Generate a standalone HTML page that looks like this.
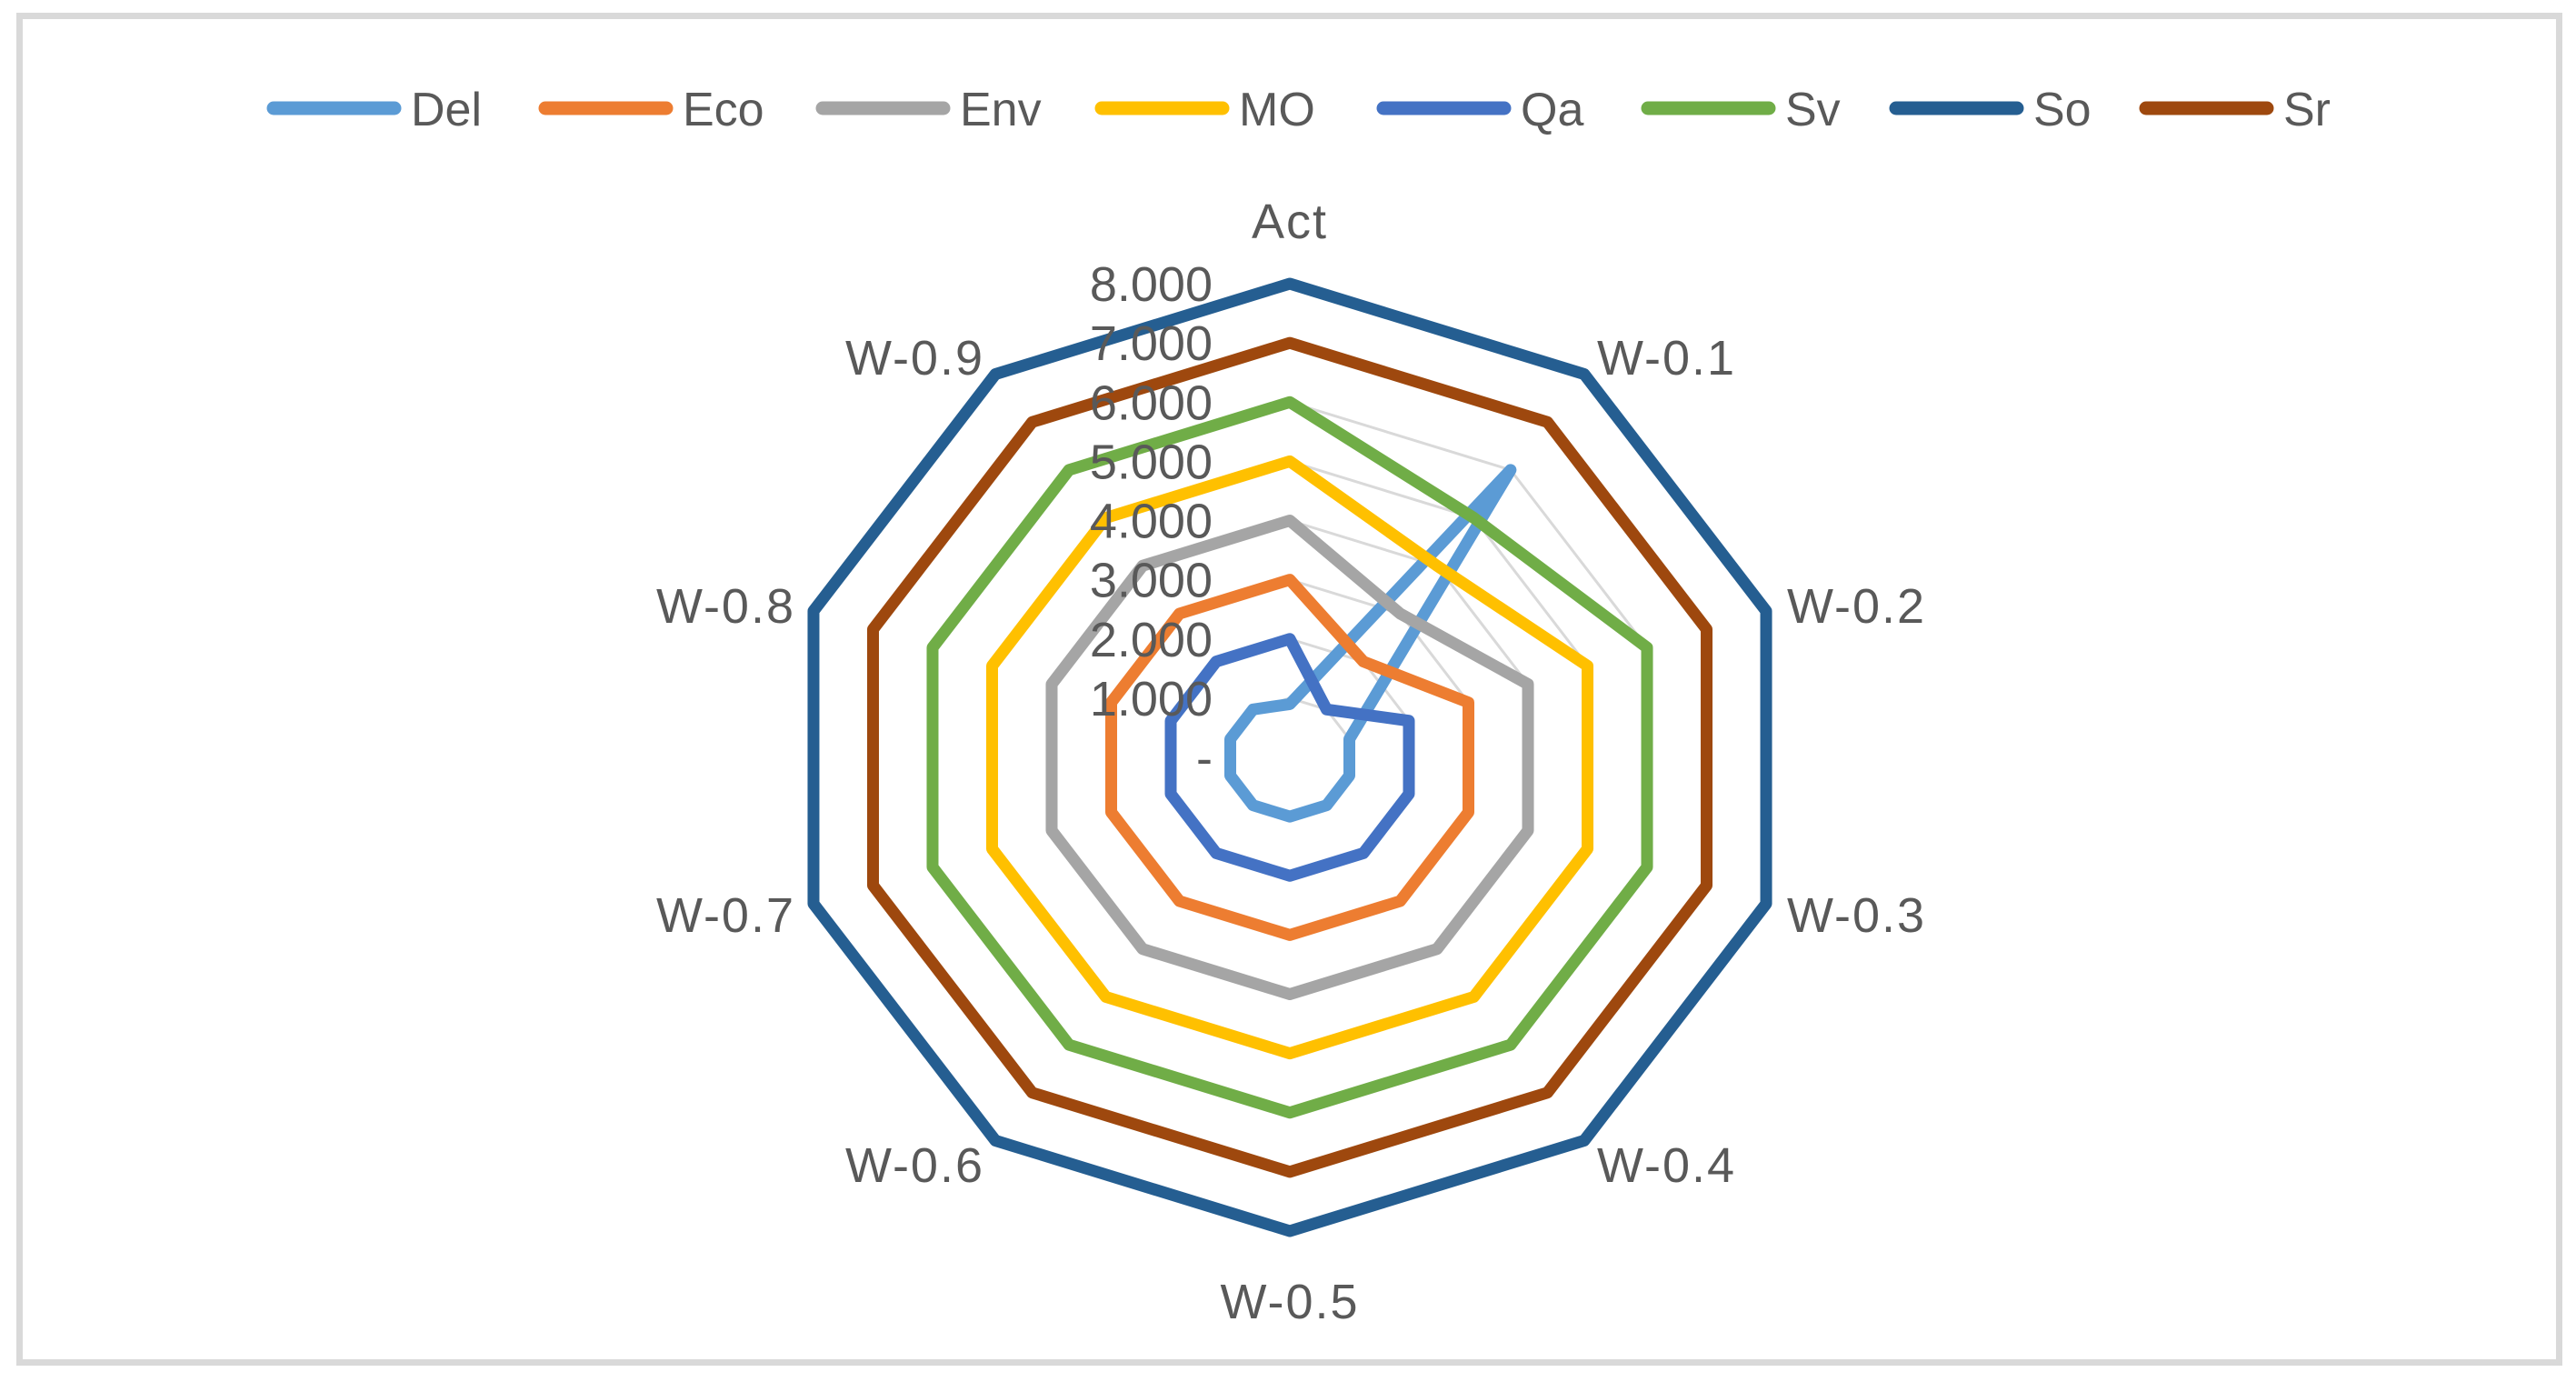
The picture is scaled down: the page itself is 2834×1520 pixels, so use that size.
<!DOCTYPE html>
<html><head><meta charset="utf-8"><style>
html,body{margin:0;padding:0;background:#fff;}
svg{display:block;}
text{font-family:"Liberation Sans",sans-serif;fill:#595959;}
</style></head><body>
<svg id="chart" width="2834" height="1520" viewBox="0 0 2834 1520" xmlns="http://www.w3.org/2000/svg">
<rect x="21.5" y="17.5" width="2794" height="1481" fill="#fff" stroke="#d9d9d9" stroke-width="7"/>
<g id="grid"></g>
<g id="series"></g>
<g id="ticks"></g>
<g id="axislabels"></g>
<g id="legend"></g>
</svg>
<script>
const categories = ["Act","W-0.1","W-0.2","W-0.3","W-0.4","W-0.5","W-0.6","W-0.7","W-0.8","W-0.9"];
const seriesNames = ["Del","Eco","Env","MO","Qa","Sv","So","Sr"];
const seriesColors = ["#5B9BD5","#ED7D31","#A5A5A5","#FFC000","#4472C4","#70AD47","#255E91","#9E480E"];
const delValues = [0.9,6,1,1,1,1,1,1,1,1];
const ecoValues = [3,2,3,3,3,3,3,3,3,3];
const envValues = [4,3,4,4,4,4,4,4,4,4];
const moValues  = [5,4,5,5,5,5,5,5,5,5];
const qaValues  = [2,1,2,2,2,2,2,2,2,2];
const svValues  = [6,5,6,6,6,6,6,6,6,6];
const soValues  = [8,8,8,8,8,8,8,8,8,8];
const srValues  = [7,7,7,7,7,7,7,7,7,7];
const tickValues = [0,1,2,3,4,5,6,7,8];
const tickLabels = ["-","1.000","2.000","3.000","4.000","5.000","6.000","7.000","8.000"];
const allValues = [delValues,ecoValues,envValues,moValues,qaValues,svValues,soValues,srValues];

const NS="http://www.w3.org/2000/svg";
const cx=1419, cy=833, maxV=8, rx=551, ry=521;
function pt(i,v){const a=i*2*Math.PI/categories.length;return [cx+v/maxV*rx*Math.sin(a), cy-v/maxV*ry*Math.cos(a)];}
function mk(tag,attrs,parent){const e=document.createElementNS(NS,tag);for(const k in attrs)e.setAttribute(k,attrs[k]);parent.appendChild(e);return e;}
const grid=document.getElementById('grid');
tickValues.forEach(t=>{ if(t===0)return;
  const p=mk('polygon',{points:categories.map((c,i)=>pt(i,t).join(',')).join(' '),fill:'none',stroke:'#d9d9d9','stroke-width':3},grid);
  
  
});
const sg=document.getElementById('series');
allValues.forEach((vals,s)=>{
  const p=mk('polygon',{points:vals.map((v,i)=>pt(i,v).join(',')).join(' '),fill:'none',stroke:seriesColors[s],'stroke-width':13,'stroke-linejoin':'round'},sg);
  
  
});
const tg=document.getElementById('ticks');
tickValues.forEach((t,k)=>{
  const y=cy-t/maxV*ry;
  const tx=mk('text',{x:1334,y:y+19,'text-anchor':'end','font-size':54},tg);
  tx.textContent=tickLabels[k];
  
  
});
const ag=document.getElementById('axislabels');
const labelPos=[[1419,262,'middle'],[1757,412,'start'],[1966,685,'start'],[1966,1025,'start'],[1757,1300,'start'],[1419,1450,'middle'],[1083,1300,'end'],[875,1025,'end'],[875,685,'end'],[1083,412,'end']];
categories.forEach((c,i)=>{
  const lp=labelPos[i];
  const tx=mk('text',{x:lp[0],y:lp[1],'text-anchor':lp[2],'font-size':54,'letter-spacing':2},ag);
  tx.textContent=c;
  
  
});
const lg=document.getElementById('legend');
const legX=[293,592,897,1204,1514,1805,2078,2353];
seriesNames.forEach((n,s)=>{
  const g=mk('g',{},lg);
  
  
  mk('line',{x1:legX[s]+8,y1:119,x2:legX[s]+141,y2:119,stroke:seriesColors[s],'stroke-width':15,'stroke-linecap':'round'},g);
  const tx=mk('text',{x:legX[s]+159,y:138,'font-size':52},g);
  tx.textContent=n;
});
</script>
</body></html>
